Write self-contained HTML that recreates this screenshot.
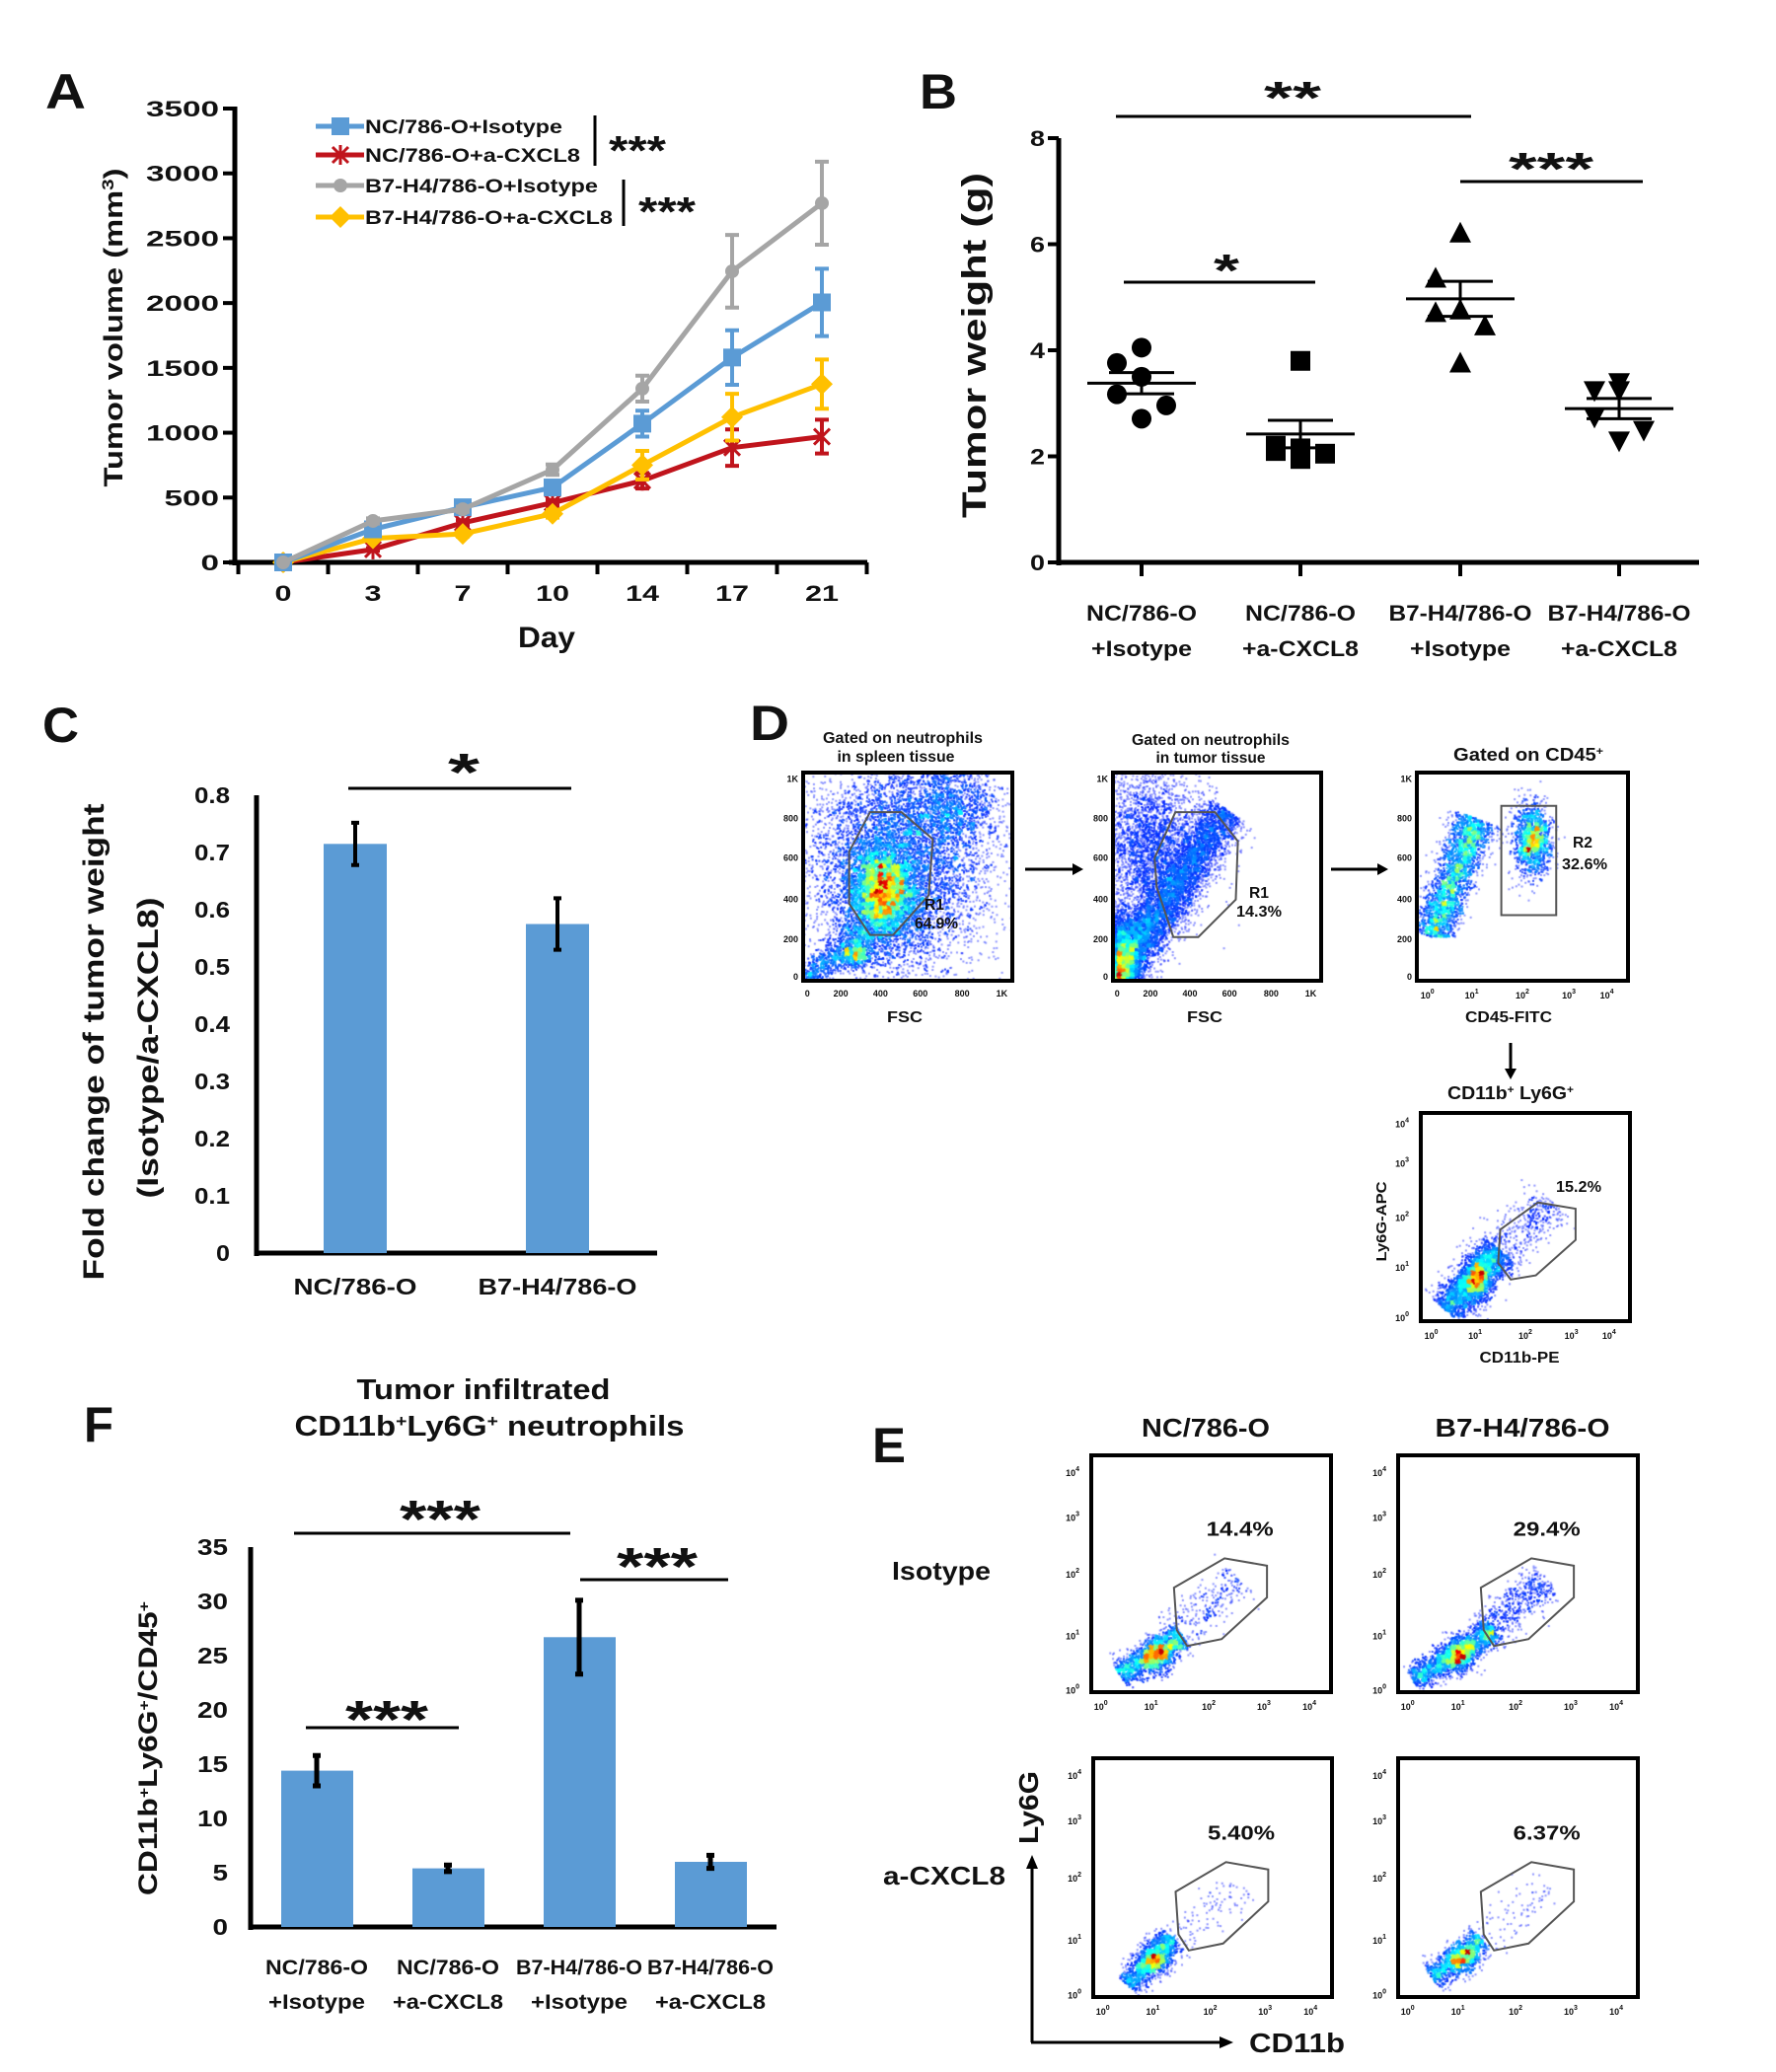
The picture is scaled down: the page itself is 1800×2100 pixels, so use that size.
<!DOCTYPE html>
<html><head><meta charset="utf-8">
<style>
html,body{margin:0;padding:0;background:#fff;}
#wrap{position:relative;width:1800px;height:2100px;overflow:hidden;}
#flow{position:absolute;left:0;top:0;}
#fig{position:absolute;left:0;top:0;}
text{font-family:"Liberation Sans",Arial,sans-serif;font-weight:bold;fill:#111;}
</style></head>
<body>
<div id="wrap">
<canvas id="flow" width="1800" height="2100"></canvas>
<svg id="fig" width="1800" height="2100" viewBox="0 0 1800 2100" xmlns="http://www.w3.org/2000/svg">
<text x="46" y="110" font-size="50" textLength="41" lengthAdjust="spacingAndGlyphs">A</text>
<text x="932" y="110" font-size="50" textLength="38" lengthAdjust="spacingAndGlyphs">B</text>
<text x="43" y="752" font-size="50" textLength="37" lengthAdjust="spacingAndGlyphs">C</text>
<text x="760" y="750" font-size="50" textLength="40" lengthAdjust="spacingAndGlyphs">D</text>
<text x="884" y="1482" font-size="50" textLength="34" lengthAdjust="spacingAndGlyphs">E</text>
<text x="85" y="1461" font-size="50" textLength="30" lengthAdjust="spacingAndGlyphs">F</text>

<g id="panelA">
<line x1="238" y1="108" x2="238" y2="573" stroke="#000" stroke-width="5"/>
<line x1="232" y1="570" x2="879" y2="570" stroke="#000" stroke-width="5"/>
<text x="554" y="656" font-size="30" text-anchor="middle" textLength="58" lengthAdjust="spacingAndGlyphs">Day</text>
<text transform="translate(124,332) rotate(-90)" font-size="27" text-anchor="middle" textLength="323" lengthAdjust="spacingAndGlyphs">Tumor volume (mm<tspan baseline-shift="super" font-size="17">3</tspan>)</text>
<line x1="603" y1="117" x2="603" y2="168" stroke="#000" stroke-width="3"/>
<text x="646" y="167" font-size="42" text-anchor="middle" textLength="58" lengthAdjust="spacingAndGlyphs">***</text>
<line x1="632" y1="182" x2="632" y2="229" stroke="#000" stroke-width="3"/>
<text x="676" y="229" font-size="42" text-anchor="middle" textLength="58" lengthAdjust="spacingAndGlyphs">***</text>
</g>

<g id="panelB">
<line x1="1073" y1="140" x2="1073" y2="573" stroke="#000" stroke-width="5"/>
<line x1="1071" y1="570" x2="1722" y2="570" stroke="#000" stroke-width="5"/>
<text transform="translate(999,350) rotate(-90)" font-size="34" text-anchor="middle" textLength="350" lengthAdjust="spacingAndGlyphs">Tumor weight (g)</text>
<line x1="1131" y1="118" x2="1491" y2="118" stroke="#000" stroke-width="3"/>
<text x="1310" y="115" font-size="46" text-anchor="middle" textLength="58" lengthAdjust="spacingAndGlyphs">**</text>
<line x1="1480" y1="184" x2="1665" y2="184" stroke="#000" stroke-width="3"/>
<text x="1572" y="187" font-size="46" text-anchor="middle" textLength="86" lengthAdjust="spacingAndGlyphs">***</text>
<line x1="1139" y1="286" x2="1333" y2="286" stroke="#000" stroke-width="3"/>
<text x="1243" y="290" font-size="46" text-anchor="middle" textLength="26" lengthAdjust="spacingAndGlyphs">*</text>
</g>

<g id="panelC">
<line x1="260" y1="806" x2="260" y2="1273" stroke="#000" stroke-width="5"/>
<line x1="258" y1="1270" x2="666" y2="1270" stroke="#000" stroke-width="5"/>
<text transform="translate(105,1056) rotate(-90)" font-size="30" text-anchor="middle" textLength="483" lengthAdjust="spacingAndGlyphs">Fold change of tumor weight</text>
<text transform="translate(160,1062) rotate(-90)" font-size="30" text-anchor="middle" textLength="305" lengthAdjust="spacingAndGlyphs">(Isotype/a-CXCL8)</text>
<line x1="353" y1="799" x2="579" y2="799" stroke="#000" stroke-width="3"/>
<text x="470" y="801" font-size="54" text-anchor="middle" textLength="32" lengthAdjust="spacingAndGlyphs">*</text>
</g>

<g id="panelF">
<text x="490" y="1418" font-size="29" text-anchor="middle" textLength="257" lengthAdjust="spacingAndGlyphs">Tumor infiltrated</text>
<text x="496" y="1455" font-size="29" text-anchor="middle" textLength="395" lengthAdjust="spacingAndGlyphs">CD11b<tspan baseline-shift="super" font-size="17">+</tspan>Ly6G<tspan baseline-shift="super" font-size="17">+</tspan> neutrophils</text>
<line x1="254" y1="1568" x2="254" y2="1956" stroke="#000" stroke-width="5"/>
<line x1="252" y1="1953" x2="787" y2="1953" stroke="#000" stroke-width="5"/>
<text transform="translate(159,1772) rotate(-90)" font-size="27" text-anchor="middle" textLength="298" lengthAdjust="spacingAndGlyphs">CD11b<tspan baseline-shift="super" font-size="15">+</tspan>Ly6G<tspan baseline-shift="super" font-size="15">+</tspan>/CD45<tspan baseline-shift="super" font-size="15">+</tspan></text>
<line x1="298" y1="1554" x2="578" y2="1554" stroke="#000" stroke-width="3"/>
<text x="446" y="1558" font-size="54" text-anchor="middle" textLength="82" lengthAdjust="spacingAndGlyphs">***</text>
<line x1="588" y1="1601" x2="738" y2="1601" stroke="#000" stroke-width="3"/>
<text x="666" y="1606" font-size="54" text-anchor="middle" textLength="82" lengthAdjust="spacingAndGlyphs">***</text>
<line x1="310" y1="1751" x2="465" y2="1751" stroke="#000" stroke-width="3"/>
<text x="392" y="1761" font-size="54" text-anchor="middle" textLength="84" lengthAdjust="spacingAndGlyphs">***</text>
</g>

<g id="panelD">
<text x="915" y="753" font-size="16" text-anchor="middle" textLength="162" lengthAdjust="spacingAndGlyphs">Gated on neutrophils</text>
<text x="908" y="772" font-size="16" text-anchor="middle" textLength="119" lengthAdjust="spacingAndGlyphs">in spleen tissue</text>
<text x="1227" y="755" font-size="16" text-anchor="middle" textLength="160" lengthAdjust="spacingAndGlyphs">Gated on neutrophils</text>
<text x="1227" y="773" font-size="16" text-anchor="middle" textLength="111" lengthAdjust="spacingAndGlyphs">in tumor tissue</text>
<text x="1549" y="771" font-size="18" text-anchor="middle" textLength="152" lengthAdjust="spacingAndGlyphs">Gated on CD45<tspan baseline-shift="super" font-size="11">+</tspan></text>
<text x="1531" y="1114" font-size="18" text-anchor="middle" textLength="128" lengthAdjust="spacingAndGlyphs">CD11b<tspan baseline-shift="super" font-size="11">+</tspan> Ly6G<tspan baseline-shift="super" font-size="11">+</tspan></text>
<text x="917" y="1036" font-size="16" text-anchor="middle" textLength="36" lengthAdjust="spacingAndGlyphs">FSC</text>
<text x="1221" y="1036" font-size="16" text-anchor="middle" textLength="36" lengthAdjust="spacingAndGlyphs">FSC</text>
<text x="1529" y="1036" font-size="16" text-anchor="middle" textLength="88" lengthAdjust="spacingAndGlyphs">CD45-FITC</text>
<text x="1540" y="1381" font-size="16" text-anchor="middle" textLength="81" lengthAdjust="spacingAndGlyphs">CD11b-PE</text>
<text transform="translate(1405,1238) rotate(-90)" font-size="15" text-anchor="middle" textLength="81" lengthAdjust="spacingAndGlyphs">Ly6G-APC</text>
<line x1="1039" y1="881" x2="1090" y2="881" stroke="#000" stroke-width="3"/>
<polygon points="1098,881 1087,875 1087,887" fill="#000"/>
<line x1="1349" y1="881" x2="1399" y2="881" stroke="#000" stroke-width="3"/>
<polygon points="1407,881 1396,875 1396,887" fill="#000"/>
<line x1="1531" y1="1057" x2="1531" y2="1086" stroke="#000" stroke-width="3"/>
<polygon points="1531,1094 1525,1083 1537,1083" fill="#000"/>
</g>

<g id="panelE">
<text x="1222" y="1456" font-size="26" text-anchor="middle" textLength="130" lengthAdjust="spacingAndGlyphs">NC/786-O</text>
<text x="1543" y="1456" font-size="26" text-anchor="middle" textLength="177" lengthAdjust="spacingAndGlyphs">B7-H4/786-O</text>
<text x="904" y="1601" font-size="26" textLength="100" lengthAdjust="spacingAndGlyphs">Isotype</text>
<text x="895" y="1910" font-size="26" textLength="124" lengthAdjust="spacingAndGlyphs">a-CXCL8</text>
<line x1="1046" y1="2070" x2="1046" y2="1892" stroke="#000" stroke-width="3"/>
<polygon points="1046,1880 1040,1894 1052,1894" fill="#000"/>
<line x1="1045" y1="2070" x2="1236" y2="2070" stroke="#000" stroke-width="3"/>
<polygon points="1250,2070 1236,2064 1236,2076" fill="#000"/>
<text x="1266" y="2080" font-size="28" textLength="97" lengthAdjust="spacingAndGlyphs">CD11b</text>
<text transform="translate(1052,1832) rotate(-90)" font-size="28" text-anchor="middle" textLength="74" lengthAdjust="spacingAndGlyphs">Ly6G</text>
</g>
<g id="dyn"></g>
</svg>
</div>
<script>
// ---------- Panel A data ----------
const aDays = ['0','3','7','10','14','17','21'];
const aBlue = [0,255,425,578,1070,1580,2005];
const aBlueErr = [0,20,30,40,100,210,260];
const aRed = [0,100,305,460,630,885,970];
const aRedErr = [0,10,20,20,60,140,130];
const aGray = [0,320,410,715,1340,2245,2770];
const aGrayErr = [0,20,20,40,100,280,320];
const aYellow = [0,185,220,375,750,1120,1375];
const aYellowErr = [0,15,20,30,110,180,190];
const aYTicks = [0,500,1000,1500,2000,2500,3000,3500];
const aLegend = ['NC/786-O+Isotype','NC/786-O+a-CXCL8','B7-H4/786-O+Isotype','B7-H4/786-O+a-CXCL8'];

// ---------- Panel B data ----------
const bCats1 = ['NC/786-O','NC/786-O','B7-H4/786-O','B7-H4/786-O'];
const bCats2 = ['+Isotype','+a-CXCL8','+Isotype','+a-CXCL8'];
const bG1 = [4.05,3.76,3.5,3.17,2.96,2.71];
const bG2 = [3.8,2.2,2.15,2.1,2.05,1.95];
const bG3 = [6.2,5.35,4.75,4.7,4.45,3.75];
const bG4 = [3.4,3.25,3.25,2.75,2.5,2.3];
const bMeans = [3.38,2.42,4.97,2.9];
const bSem = [0.2,0.26,0.33,0.19];
const bYTicks = [0,2,4,6,8];

// ---------- Panel C data ----------
const cCats = ['NC/786-O','B7-H4/786-O'];
const cVals = [0.715,0.575];
const cErr = [0.037,0.045];
const cYTicks = ['0','0.1','0.2','0.3','0.4','0.5','0.6','0.7','0.8'];

// ---------- Panel F data ----------
const fCats1 = ['NC/786-O','NC/786-O','B7-H4/786-O','B7-H4/786-O'];
const fCats2 = ['+Isotype','+a-CXCL8','+Isotype','+a-CXCL8'];
const fVals = [14.4,5.4,26.7,6.0];
const fErr = [1.4,0.3,3.4,0.6];
const fYTicks = [0,5,10,15,20,25,30,35];

// ---------- Flow plot labels ----------
const dLinTicks = ['1K','800','600','400','200','0'];
const dLinTicksX = ['0','200','400','600','800','1K'];
const logExp = ['0','1','2','3','4'];
const ePercents = ['14.4%','29.4%','5.40%','6.37%'];

const NS = 'http://www.w3.org/2000/svg';
const dyn = document.getElementById('dyn');
function mk(tag, attrs, parent){
  const e = document.createElementNS(NS, tag);
  for (const k in attrs) e.setAttribute(k, attrs[k]);
  (parent || dyn).appendChild(e);
  return e;
}
function txt(x, y, s, fs, anchor, len, parent){
  const t = mk('text', {x:x, y:y, 'font-size':fs, 'text-anchor':anchor||'start'}, parent);
  if (len) { t.setAttribute('textLength', len); t.setAttribute('lengthAdjust','spacingAndGlyphs'); }
  t.textContent = s;
  return t;
}

// ===== Panel A =====
const xA = i => 287 + i * 91;
const yA = v => 570 - v / 3500 * (570 - 110);
aYTicks.forEach(v => {
  const tk = mk('line', {x1:226, y1:yA(v), x2:238, y2:yA(v), stroke:'#000', 'stroke-width':4});
  
  
  const s = String(v);
  const lb = txt(222, yA(v) + 8, s, 22, 'end', s.length * 18.5);
  
  
});
for (let i = 0; i <= aDays.length; i++) {
  const xm = xA(i) - 45.5;
  const tk = mk('line', {x1:xm, y1:570, x2:xm, y2:582, stroke:'#000', 'stroke-width':4});
  
  
}
aDays.forEach((d, i) => {
  const lb = txt(xA(i), 609, d, 22, 'middle', d.length * 17);
  
  
});
function marker(kind, x, y, color, g){
  let m;
  if (kind === 'square') m = mk('rect', {x:x-9, y:y-9, width:18, height:18, fill:color}, g);
  else if (kind === 'diamond') m = mk('polygon', {points:`${x},${y-11} ${x+11},${y} ${x},${y+11} ${x-11},${y}`, fill:color}, g);
  else if (kind === 'circle') m = mk('circle', {cx:x, cy:y, r:7, fill:color}, g);
  else m = mk('path', {d:`M${x-8},${y-8}L${x+8},${y+8}M${x+8},${y-8}L${x-8},${y+8}M${x},${y-10}L${x},${y+10}`, stroke:color, 'stroke-width':3}, g);
  return m;
}
function seriesA(vals, errs, color, kind, name){
  const g = mk('g', {});
  
  
  vals.forEach((v, i) => {
    if (errs[i] > 0) {
      const eb = mk('path', {d:`M${xA(i)},${yA(v-errs[i])}V${yA(v+errs[i])}M${xA(i)-7},${yA(v-errs[i])}H${xA(i)+7}M${xA(i)-7},${yA(v+errs[i])}H${xA(i)+7}`, stroke:color, 'stroke-width':4, fill:'none'}, g);
      
      
    }
  });
  const pl = mk('polyline', {points:vals.map((v, i) => xA(i) + ',' + yA(v)).join(' '), fill:'none', stroke:color, 'stroke-width':5, 'stroke-linejoin':'round'}, g);
  
  
  vals.forEach((v, i) => {
    const m = marker(kind, xA(i), yA(v), color, g);
    
    
  });
}
seriesA(aRed, aRedErr, '#c0141c', 'star', 'series-nc-acxcl8');
seriesA(aYellow, aYellowErr, '#ffc000', 'diamond', 'series-b7-acxcl8');
seriesA(aBlue, aBlueErr, '#5b9bd5', 'square', 'series-nc-isotype');
seriesA(aGray, aGrayErr, '#a5a5a5', 'circle', 'series-b7-isotype');
const legColors = ['#5b9bd5','#c0141c','#a5a5a5','#ffc000'];
const legKinds = ['square','star','circle','diamond'];
const legY = [128,157,188,220];
const legLens = [200,218,236,251];
aLegend.forEach((s, i) => {
  const g = mk('g', {});
  
  
  mk('line', {x1:320, y1:legY[i], x2:369, y2:legY[i], stroke:legColors[i], 'stroke-width':5}, g);
  marker(legKinds[i], 345, legY[i], legColors[i], g);
  txt(370, legY[i] + 7, s, 19, 'start', legLens[i], g);
});

// ===== Panel B =====
const bX = [1157,1318,1480,1641];
const yB = v => 570 - v * 53.75;
bYTicks.forEach(v => {
  const tk = mk('line', {x1:1062, y1:yB(v), x2:1073, y2:yB(v), stroke:'#000', 'stroke-width':4});
  
  
  const lb = txt(1059, yB(v) + 8, String(v), 22, 'end', 15);
  
  
});
bX.forEach((x, i) => {
  const tk = mk('line', {x1:x, y1:570, x2:x, y2:584, stroke:'#000', 'stroke-width':4});
  
  
  const l1 = txt(x, 629, bCats1[i], 22, 'middle', bCats1[i].length > 9 ? 145 : 112);
  
  
  const l2 = txt(x, 665, bCats2[i], 22, 'middle', bCats2[i] === '+Isotype' ? 102 : 118);
  
  
});
const jit = [0,-1,0,-1,1,0];
function groupB(vals, gi, kind){
  const x0 = bX[gi];
  vals.forEach((v, k) => {
    const x = x0 + jit[k] * 25, y = yB(v);
    let m;
    if (kind === 'circle') m = mk('circle', {cx:x, cy:y, r:10, fill:'#000'});
    else if (kind === 'square') m = mk('rect', {x:x-10, y:y-10, width:20, height:20, fill:'#000'});
    else if (kind === 'up') m = mk('polygon', {points:`${x},${y-12} ${x+11},${y+9} ${x-11},${y+9}`, fill:'#000'});
    else m = mk('polygon', {points:`${x},${y+12} ${x+11},${y-9} ${x-11},${y-9}`, fill:'#000'});
    
    
  });
  const mu = bMeans[gi], se = bSem[gi];
  const ml = mk('line', {x1:x0-55, y1:yB(mu), x2:x0+55, y2:yB(mu), stroke:'#000', 'stroke-width':3});
  
  
  const eb = mk('path', {d:`M${x0},${yB(mu-se)}V${yB(mu+se)}M${x0-33},${yB(mu-se)}H${x0+33}M${x0-33},${yB(mu+se)}H${x0+33}`, stroke:'#000', 'stroke-width':3, fill:'none'});
  
  
}
groupB(bG1, 0, 'circle');
groupB(bG2, 1, 'square');
groupB(bG3, 2, 'up');
groupB(bG4, 3, 'down');

// ===== Panel C =====
const cX = [360,565];
const yC = v => 1270 - v / 0.8 * (1270 - 806);
cYTicks.forEach(s => {
  const lb = txt(233, yC(parseFloat(s)) + 8, s, 23, 'end', s.length === 1 ? 14 : 36);
  
  
});
cVals.forEach((v, i) => {
  const b = mk('rect', {x:cX[i]-32, y:yC(v), width:64, height:yC(0)-yC(v), fill:'#5b9bd5'});
  
  
  const e = mk('path', {d:`M${cX[i]},${yC(v-cErr[i])}V${yC(v+cErr[i])}M${cX[i]-4},${yC(v-cErr[i])}H${cX[i]+4}M${cX[i]-4},${yC(v+cErr[i])}H${cX[i]+4}`, stroke:'#000', 'stroke-width':4, fill:'none'});
  
  
  const lb = txt(cX[i], 1312, cCats[i], 23, 'middle', i === 0 ? 125 : 161);
  
  
});

// ===== Panel F =====
const fX = [321,454,587,720];
const yF = v => 1953 - v / 35 * (1953 - 1568);
fYTicks.forEach(v => {
  const s = String(v);
  const lb = txt(231, yF(v) + 8, s, 23, 'end', s.length * 15.5);
  
  
});
fVals.forEach((v, i) => {
  const b = mk('rect', {x:fX[i]-36, y:yF(v), width:73, height:yF(0)-yF(v), fill:'#5b9bd5'});
  
  
  const e = mk('path', {d:`M${fX[i]},${yF(v-fErr[i])}V${yF(v+fErr[i])}M${fX[i]-4},${yF(v-fErr[i])}H${fX[i]+4}M${fX[i]-4},${yF(v+fErr[i])}H${fX[i]+4}`, stroke:'#000', 'stroke-width':5, fill:'none'});
  
  
  const l1 = txt(fX[i], 2001, fCats1[i], 21, 'middle', fCats1[i].length > 9 ? 128 : 104);
  
  
  const l2 = txt(fX[i], 2036, fCats2[i], 21, 'middle', fCats2[i] === '+Isotype' ? 98 : 112);
  
  
});

// ===== Flow cytometry plots =====
const ctx = document.getElementById('flow').getContext('2d');
let seed = 12345;
function rnd(){ seed |= 0; seed = seed + 0x6D2B79F5 | 0; let t = Math.imul(seed ^ seed >>> 15, 1 | seed); t = t + Math.imul(t ^ t >>> 7, 61 | t) ^ t; return ((t ^ t >>> 14) >>> 0) / 4294967296; }
function gauss(){ let u = 0, v = 0; while (u === 0) u = rnd(); v = rnd(); return Math.sqrt(-2 * Math.log(u)) * Math.cos(2 * Math.PI * v); }
function jet(t){
  t = 0.14 + 0.86 * t;
  const c = x => Math.max(0, Math.min(1, x));
  return [c(1.5 - Math.abs(4*t - 3)), c(1.5 - Math.abs(4*t - 2)), c(1.5 - Math.abs(4*t - 1))];
}
function flowDots(box, clusters, floorY){
  const pts = [];
  clusters.forEach(c => {
    for (let i = 0; i < c.n; i++) {
      let x, y;
      if (c.t === 'g') { x = c.cx + gauss() * c.sx; y = c.cy + gauss() * c.sy; }
      else {
        const t = Math.pow(rnd(), c.p || 1);
        const dx = c.x2 - c.x1, dy = c.y2 - c.y1, L = Math.hypot(dx, dy);
        const w = gauss() * c.w;
        x = c.x1 + t * dx - dy / L * w; y = c.y1 + t * dy + dx / L * w;
      }
      if (floorY && y > floorY) y = floorY - rnd() * 0.01;
      if (x < 0.005 || x > 0.995 || y < 0.005 || y > 0.995) continue;
      pts.push([x, y]);
    }
  });
  const G = 50, grid = new Float32Array(G * G);
  pts.forEach(p => { grid[Math.floor(p[1] * G) * G + Math.floor(p[0] * G)]++; });
  let mx = 0; for (let i = 0; i < grid.length; i++) mx = Math.max(mx, grid[i]);
  const W = box[2] - box[0], H = box[3] - box[1];
  pts.forEach(p => {
    const d = grid[Math.floor(p[1] * G) * G + Math.floor(p[0] * G)] / mx;
    const col = jet(Math.pow(d, 1.5) * 0.92);
    const a = d < 0.08 ? 0.45 : 0.8;
    ctx.fillStyle = `rgba(${Math.round(col[0]*255)},${Math.round(col[1]*255)},${Math.round(col[2]*255)},${a})`;
    ctx.fillRect(box[0] + p[0] * W - 1, box[1] + p[1] * H - 1, 2, 2);
  });
}
function flowBox(box, gate, name){
  const g = mk('g', {});
  
  
  const r = mk('rect', {x:box[0], y:box[1], width:box[2]-box[0], height:box[3]-box[1], fill:'none', stroke:'#000', 'stroke-width':4}, g);
  
  
  if (gate) {
    const W = box[2]-box[0], H = box[3]-box[1];
    const pg = mk('polygon', {points:gate.map(p => (box[0]+p[0]*W) + ',' + (box[1]+p[1]*H)).join(' '), fill:'none', stroke:'#555', 'stroke-width':2}, g);
    
    
  }
  return g;
}
function linTicks(box, g){
  const W = box[2]-box[0], H = box[3]-box[1];
  const yf = [0.03,0.22,0.41,0.61,0.80,0.98], xf = [0.02,0.18,0.37,0.56,0.76,0.95];
  dLinTicks.forEach((s, i) => { const t = txt(box[0]-5, box[1]+yf[i]*H+3, s, 9, 'end', null, g); t.setAttribute('fill', '#555'); });
  dLinTicksX.forEach((s, i) => { const t = txt(box[0]+xf[i]*W, box[3]+16, s, 9, 'middle', null, g); t.setAttribute('fill', '#555'); });
}
function logTicksX(box, g, xf){
  const W = box[2]-box[0];
  logExp.forEach((e, i) => { const t = txt(box[0]+xf[i]*W, box[3]+18, '10', 9, 'middle', null, g); t.setAttribute('fill', '#555'); const s = mk('tspan', {'font-size':7, dy:-5}, t); s.textContent = e; });
}
function logTicksY(box, g, yf){
  const H = box[3]-box[1];
  logExp.forEach((e, i) => { const t = txt(box[0]-12, box[1]+yf[4-i]*H+4, '10', 9, 'end', null, g); t.setAttribute('fill', '#555'); const s = mk('tspan', {'font-size':7, dy:-5}, t); s.textContent = e; });
}
function label(x, y, s, fs, len, name){
  const t = txt(x, y, s, fs, 'middle', len);
  
  
}

// D plot 1
const d1 = [814,783,1026,994];
flowDots(d1, [
  {t:'g', cx:0.45, cy:0.45, sx:0.22, sy:0.27, n:6000},
  {t:'g', cx:0.38, cy:0.58, sx:0.08, sy:0.12, n:3500},
  {t:'g', cx:0.25, cy:0.88, sx:0.04, sy:0.03, n:400},
  {t:'l', x1:0.0, y1:1.0, x2:0.3, y2:0.75, w:0.04, n:700},
  {t:'g', cx:0.7, cy:0.15, sx:0.12, sy:0.12, n:1200}
]);
const gD1 = flowBox(d1, [[0.22,0.38],[0.32,0.19],[0.47,0.19],[0.62,0.32],[0.60,0.59],[0.43,0.78],[0.32,0.78],[0.22,0.63]], 'd-plot-spleen');
linTicks(d1, gD1);
label(947, 922, 'R1', 16, 20, 'd-plot1-gate-name');
label(949, 941, '64.9%', 16, 44, 'd-plot1-gate-percent');
// D plot 2
const d2 = [1128,783,1339,994];
flowDots(d2, [
  {t:'l', x1:0.0, y1:1.0, x2:0.55, y2:0.18, w:0.06, n:7000, p:1.8},
  {t:'g', cx:0.17, cy:0.33, sx:0.14, sy:0.2, n:3000},
  {t:'g', cx:0.04, cy:0.85, sx:0.04, sy:0.1, n:1500}
]);
const gD2 = flowBox(d2, [[0.20,0.41],[0.30,0.19],[0.49,0.19],[0.60,0.33],[0.59,0.61],[0.41,0.79],[0.29,0.79],[0.21,0.55]], 'd-plot-tumor');
linTicks(d2, gD2);
label(1276, 910, 'R1', 16, 20, 'd-plot2-gate-name');
label(1276, 929, '14.3%', 16, 46, 'd-plot2-gate-percent');
// D plot 3
const d3 = [1436,783,1650,994];
flowDots(d3, [
  {t:'l', x1:0.07, y1:0.79, x2:0.28, y2:0.22, w:0.05, n:2500},
  {t:'g', cx:0.55, cy:0.32, sx:0.045, sy:0.09, n:1300}
], 0.79);
const gD3 = flowBox(d3, [[0.40,0.16],[0.66,0.16],[0.66,0.685],[0.40,0.685]], 'd-plot-cd45');
logTicksX(d3, gD3, [0.05,0.26,0.50,0.72,0.90]);
dLinTicks.forEach((s, i) => { const t = txt(d3[0]-5, d3[1]+[0.03,0.22,0.41,0.61,0.80,0.98][i]*211+3, s, 9, 'end', null, gD3); t.setAttribute('fill', '#555'); });
label(1604, 859, 'R2', 16, 20, 'd-plot3-gate-name');
label(1606, 881, '32.6%', 16, 46, 'd-plot3-gate-percent');
// D plot 4
const d4 = [1440,1128,1652,1339];
flowDots(d4, [
  {t:'l', x1:0.12, y1:0.95, x2:0.38, y2:0.66, w:0.045, n:1800},
  {t:'g', cx:0.27, cy:0.8, sx:0.04, sy:0.06, n:1000},
  {t:'l', x1:0.32, y1:0.74, x2:0.62, y2:0.42, w:0.06, n:450}
]);
const gD4 = flowBox(d4, [[0.38,0.56],[0.56,0.43],[0.74,0.46],[0.74,0.61],[0.55,0.78],[0.43,0.80],[0.37,0.72]], 'd-plot-cd11b-ly6g');
logTicksX(d4, gD4, [0.05,0.26,0.50,0.72,0.90]);
logTicksY(d4, gD4, [0.05,0.24,0.50,0.74,0.98]);
label(1600, 1208, '15.2%', 16, 46, 'd-plot4-gate-percent');

// E plots
const eBoxes = [[1106,1475,1349,1715],[1417,1475,1660,1715],[1108,1782,1350,2024],[1417,1782,1660,2024]];
const eNames = ['e-plot-nc-isotype','e-plot-b7-isotype','e-plot-nc-acxcl8','e-plot-b7-acxcl8'];
const eTail = [260,520,110,90];
const eMain = [[0.12,0.93,0.38,0.76,1200],[0.06,0.95,0.40,0.74,1500],[0.14,0.95,0.33,0.75,1100],[0.14,0.92,0.35,0.76,900]];
const eGate = [[0.345,0.559],[0.556,0.435],[0.733,0.466],[0.733,0.600],[0.544,0.776],[0.400,0.805],[0.357,0.738]];
eBoxes.forEach((b, i) => {
  const m = eMain[i];
  flowDots(b, [
    {t:'l', x1:m[0], y1:m[1], x2:m[2], y2:m[3], w:0.03, n:m[4]},
    {t:'g', cx:(m[0]+m[2])/2+0.03, cy:(m[1]+m[3])/2, sx:0.035, sy:0.035, n:Math.round(m[4]*0.4)},
    {t:'l', x1:0.34, y1:0.77, x2:0.62, y2:0.52, w:0.045, n:eTail[i]}
  ]);
  const g = flowBox(b, eGate, eNames[i]);
  logTicksX(b, g, [0.04,0.25,0.49,0.72,0.91]);
  logTicksY(b, g, [0.07,0.26,0.50,0.76,0.99]);
  const W = b[2]-b[0], H = b[3]-b[1];
  label(b[0] + 0.62*W, b[1] + 0.34*H, ePercents[i], 20, 68, 'e-gate-percent');
});
</script>
</body></html>
